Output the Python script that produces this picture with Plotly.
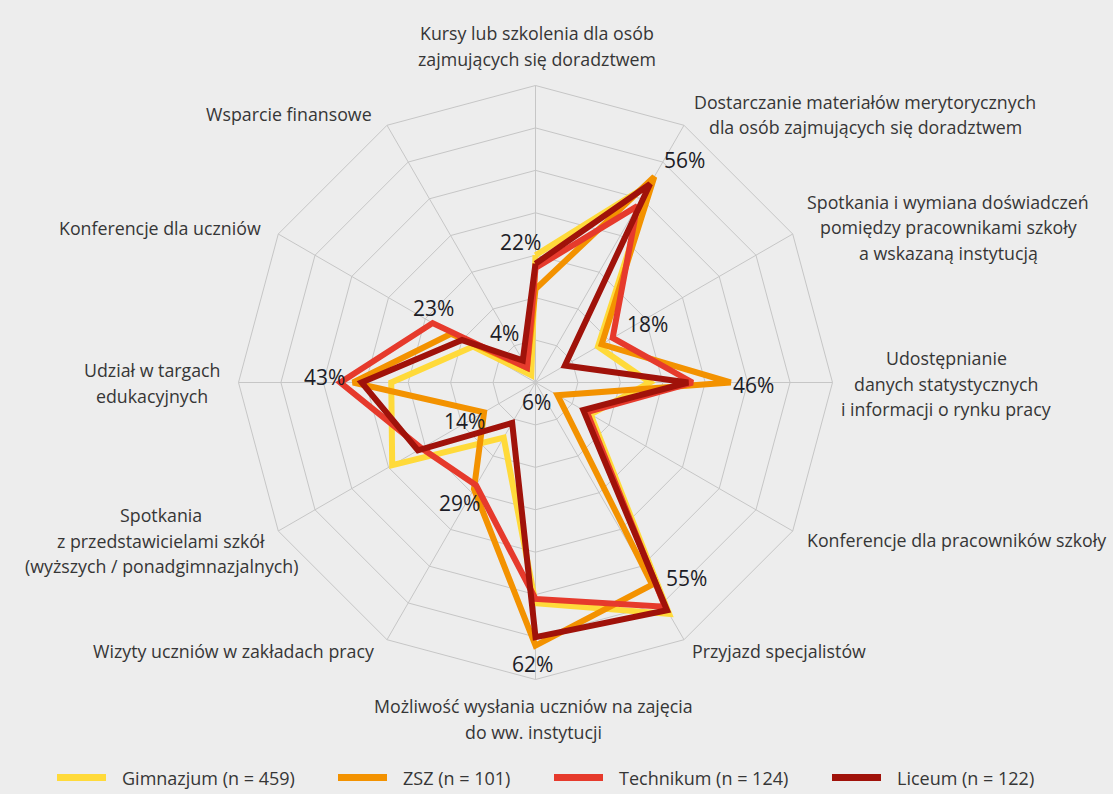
import plotly.graph_objects as go

# Category labels, one list of text lines per axis (clockwise from the top)
category_lines = [
    ["Kursy lub szkolenia dla osób", "zajmujących się doradztwem"],
    ["Dostarczanie materiałów merytorycznych", "dla osób zajmujących się doradztwem"],
    ["Spotkania i wymiana doświadczeń", "pomiędzy pracownikami szkoły", "a wskazaną instytucją"],
    ["Udostępnianie", "danych statystycznych", "i informacji o rynku pracy"],
    ["Konferencje dla pracowników szkoły"],
    ["Przyjazd specjalistów"],
    ["Możliwość wysłania uczniów na zajęcia", "do ww. instytucji"],
    ["Wizyty uczniów w zakładach pracy"],
    ["Spotkania", "z przedstawicielami szkół", "(wyższych / ponadgimnazjalnych)"],
    ["Udział w targach", "edukacyjnych"],
    ["Konferencje dla uczniów"],
    ["Wsparcie finansowe"],
]
categories = [" ".join(lines) for lines in category_lines]

series_names = ["Gimnazjum (n = 459)", "ZSZ (n = 101)", "Technikum (n = 124)", "Liceum (n = 122)"]
gimnazjum = [30, 54, 17, 27, 15, 63, 52, 15, 39, 34, 17, 2]
zsz = [22, 56, 18, 46, 6, 55, 62, 29, 14, 43, 23, 4]
technikum = [27, 48, 21, 37, 14, 61, 51, 28, 31, 46, 28, 4]
liceum = [28, 54, 8, 36, 13, 62, 60, 11, 32, 41, 20, 6]
series_values = [gimnazjum, zsz, technikum, liceum]
series_colors = ["#FFDA3A", "#F39200", "#E63A2C", "#A0120A"]

# ZSZ values are printed next to the chart
labelled_values = zsz

W, H = 1113, 794
BG = "#ededed"
GRID = "#c6c6c6"
TEXT = "#363636"
FONT = "Open Sans"

CX, CY, R = 535.5, 382.5, 297.0


def px(x):
    return x / W


def py(y):
    return 1 - y / H


fig = go.Figure()
for name, vals, color in zip(series_names, series_values, series_colors):
    fig.add_trace(go.Scatterpolar(
        r=vals + vals[:1],
        theta=categories + categories[:1],
        mode="lines",
        name=name,
        line=dict(color=color, width=6),
        showlegend=False,
        hoverinfo="skip",
    ))

# Axis label placement: (x, first line y, anchor)
label_pos = [
    (537, 33, "center"),
    (865, 102, "center"),
    (948, 202, "center"),
    (946, 358, "center"),
    (805, 540, "left"),
    (690, 651, "left"),
    (533, 706, "center"),
    (376, 651, "right"),
    (161, 515, "center"),
    (152, 370, "center"),
    (263, 228, "right"),
    (374, 114, "right"),
]
LINE_STEP = 25.5

annotations = []
for lines, (x, y0, anchor) in zip(category_lines, label_pos):
    for i, line in enumerate(lines):
        annotations.append(dict(
            x=px(x), y=py(y0 + i * LINE_STEP), xref="paper", yref="paper",
            text=line, showarrow=False, xanchor=anchor, yanchor="middle",
            font=dict(family=FONT, size=17.8, color=TEXT),
        ))

# Value labels placement (centre of text)
value_label_pos = [
    (520, 242), (684, 160), (647, 324), (753, 385), (536, 402), (686, 578),
    (532, 664), (459, 503), (464, 421), (324, 377), (433, 308), (504, 333),
]
for v, (x, y) in zip(labelled_values, value_label_pos):
    annotations.append(dict(
        x=px(x), y=py(y), xref="paper", yref="paper",
        text=f"{v}%", showarrow=False, xanchor="center", yanchor="middle",
        font=dict(family=FONT, size=21, color="#1c1c26"),
    ))

# Legend drawn along the bottom
legend_line_x = [57, 338, 554, 832]
LEG_Y = 777.5
LEG_LEN = 49
shapes = []
for name, color, x0 in zip(series_names, series_colors, legend_line_x):
    shapes.append(dict(
        type="line", xref="paper", yref="paper",
        x0=px(x0), x1=px(x0 + LEG_LEN), y0=py(LEG_Y), y1=py(LEG_Y),
        line=dict(color=color, width=7),
    ))
    annotations.append(dict(
        x=px(x0 + LEG_LEN + 14), y=py(LEG_Y), xref="paper", yref="paper",
        text=name, showarrow=False, xanchor="left", yanchor="middle",
        font=dict(family=FONT, size=18, color=TEXT),
    ))

fig.update_layout(
    width=W, height=H,
    margin=dict(l=0, r=0, t=0, b=0),
    paper_bgcolor=BG,
    plot_bgcolor=BG,
    showlegend=False,
    polar=dict(
        domain=dict(x=[px(CX - R), px(CX + R)], y=[py(CY + R), py(CY - R)]),
        bgcolor=BG,
        gridshape="linear",
        radialaxis=dict(
            range=[0, 70], dtick=10, showticklabels=False, ticks="",
            showline=False, gridcolor=GRID, gridwidth=1,
        ),
        angularaxis=dict(
            direction="clockwise", rotation=90, showticklabels=False, ticks="",
            gridcolor=GRID, gridwidth=1, linecolor=GRID, linewidth=1, showline=True,
        ),
    ),
    annotations=annotations,
    shapes=shapes,
)

fig.write_html("out.html")
